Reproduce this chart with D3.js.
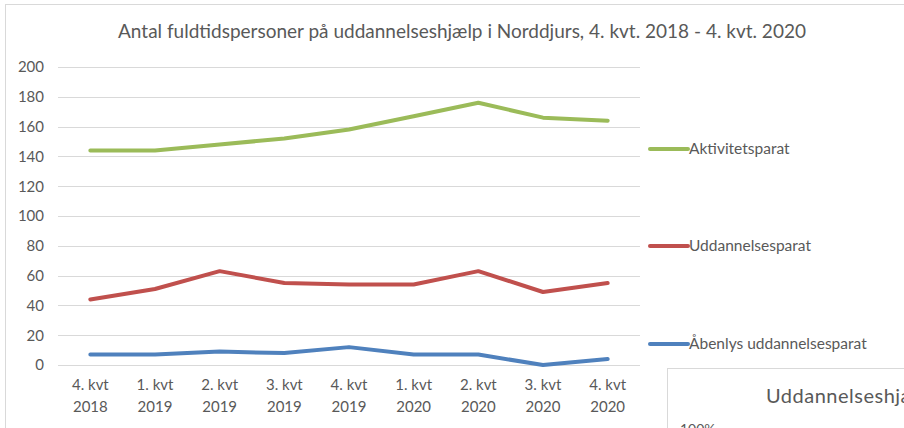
<!DOCTYPE html>
<html lang="da">
  <head>
    <meta charset="UTF-8" />
    <title>Uddannelseshjælp Norddjurs</title>
    <script src="https://d3js.org/d3.v7.min.js"></script>
    <style>
      body { margin: 0; background: #fff; }
      text { font-family: Lato, "Open Sans", sans-serif; fill: #595959; }
    </style>
  </head>
  <body>
    <div id="chart"></div>
    <script>
      // quarters on the x axis (two-line labels)
      const quarters = ["4. kvt", "1. kvt", "2. kvt", "3. kvt", "4. kvt", "1. kvt", "2. kvt", "3. kvt", "4. kvt"];
      const years = ["2018", "2019", "2019", "2019", "2019", "2020", "2020", "2020", "2020"];
      const yTicks = [0, 20, 40, 60, 80, 100, 120, 140, 160, 180, 200];

      // series values
      const aktivitetsparat = [144, 144, 148, 152, 158, 167, 176, 166, 164];
      const uddannelsesparat = [44, 51, 63, 55, 54, 54, 63, 49, 55];
      const aabenlys = [7, 7, 9, 8, 12, 7, 7, 0, 4];

      const seriesNames = ["Aktivitetsparat", "Uddannelsesparat", "Åbenlys uddannelsesparat"];
      const seriesColors = ["#9BBB59", "#C0504D", "#4F81BD"];

      const width = 904;
      const height = 428;

      const svg = d3
        .select("#chart")
        .append("svg")
        .attr("width", width)
        .attr("height", height);

      // outer chart frame
      svg
        .append("rect")
        .attr("x", 5.5)
        .attr("y", 4.5)
        .attr("width", 920)
        .attr("height", 440)
        .attr("fill", "#fff")
        .attr("stroke", "#D9D9D9");

      svg
        .append("text")
        .attr("x", 462)
        .attr("y", 38)
        .attr("text-anchor", "middle")
        .style("font-size", "19px")
        .text("Antal fuldtidspersoner på uddannelseshjælp i Norddjurs, 4. kvt. 2018 - 4. kvt. 2020");

      const keys = d3.range(quarters.length);
      const x = d3.scaleBand().domain(keys).range([58, 640]);
      const y = d3.scaleLinear().domain([0, 200]).range([365, 67]);

      // gridlines
      svg
        .append("g")
        .selectAll("line")
        .data(yTicks)
        .join("line")
        .attr("x1", 58)
        .attr("x2", 640)
        .attr("y1", (d) => Math.round(y(d)) + 0.5)
        .attr("y2", (d) => Math.round(y(d)) + 0.5)
        .attr("stroke", "#D9D9D9")
        .attr("stroke-width", 1);

      // y axis labels
      const yAxis = d3.axisLeft(y).tickValues(yTicks).tickSize(0).tickPadding(0);
      const gy = svg.append("g").attr("transform", "translate(44,0)").call(yAxis);
      gy.select(".domain").remove();
      gy.selectAll("text")
        .style("font-size", "15px")
        .style("fill", "#595959")
        .attr("font-family", null);

      // x axis labels
      const xAxis = d3.axisBottom(x).tickSize(0).tickFormat(() => "");
      const gx = svg.append("g").attr("transform", "translate(0,365)").call(xAxis);
      gx.select(".domain").remove();
      gx.selectAll(".tick")
        .append("text")
        .attr("text-anchor", "middle")
        .style("font-size", "15px")
        .selectAll("tspan")
        .data((d) => [quarters[d], years[d]])
        .join("tspan")
        .attr("x", 0)
        .attr("y", (d, i) => 25 + i * 22)
        .text((d) => d);

      const allSeries = [aktivitetsparat, uddannelsesparat, aabenlys];
      const line = d3
        .line()
        .x((d, i) => x(i) + x.bandwidth() / 2)
        .y((d) => y(d));

      svg
        .append("g")
        .selectAll("path")
        .data(allSeries)
        .join("path")
        .attr("d", line)
        .attr("fill", "none")
        .attr("stroke", (d, i) => seriesColors[i])
        .attr("stroke-width", 4)
        .attr("stroke-linejoin", "round")
        .attr("stroke-linecap", "round");

      // legend
      const legendY = [149, 246, 344];
      const legend = svg
        .append("g")
        .selectAll("g")
        .data(seriesNames)
        .join("g")
        .attr("transform", (d, i) => `translate(650,${legendY[i]})`);
      legend
        .append("line")
        .attr("x1", 0)
        .attr("x2", 38)
        .attr("stroke", (d, i) => seriesColors[i])
        .attr("stroke-width", 4)
        .attr("stroke-linecap", "round");
      legend
        .append("text")
        .attr("x", 39)
        .attr("dy", "0.35em")
        .style("font-size", "15.5px")
        .text((d) => d);

      // the next chart peeking in at the bottom right (cut off by the edge, as in the source)
      svg
        .append("rect")
        .attr("x", 667.5)
        .attr("y", 368.5)
        .attr("width", 300)
        .attr("height", 100)
        .attr("fill", "#fff")
        .attr("stroke", "#D9D9D9");
      svg
        .append("text")
        .attr("x", 766)
        .attr("y", 403)
        .style("font-size", "20px")
        .style("letter-spacing", "0.5px")
        .text("Uddannelseshjælp");
      svg
        .append("text")
        .attr("x", 680)
        .attr("y", 434)
        .style("font-size", "14px")
        .text("100%");
    </script>
  </body>
</html>
